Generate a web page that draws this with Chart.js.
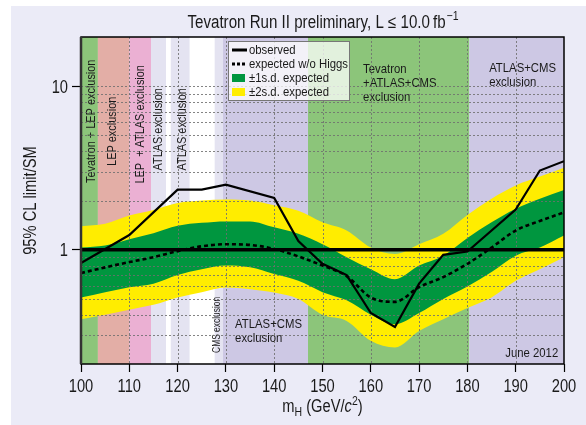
<!DOCTYPE html>
<html>
<head>
<meta charset="utf-8">
<script src="https://cdn.jsdelivr.net/npm/chart.js@4.4.1/dist/chart.umd.min.js"></script>
<style>
  html, body { margin: 0; padding: 0; background: #ffffff; }
  #bg { position: absolute; left: 11px; top: 6px; right: 0; bottom: 0; background: #ebebf7; }
  #wrap { position: absolute; left: 0; top: 0; width: 586px; height: 425px; }
</style>
</head>
<body>
<div id="bg"></div>
<div id="wrap"><canvas id="c" width="586" height="425"></canvas></div>
<script>
// Higgs mass points (GeV/c^2) for the expected limit and its bands
const masses     = [100, 105, 110, 115, 120, 125, 130, 135, 140, 145, 150, 155, 160, 165, 170, 175, 180, 185, 190, 195, 200];
const expected   = [0.72, 0.78, 0.84, 0.90, 0.98, 1.05, 1.08, 1.07, 1.01, 0.91, 0.80, 0.69, 0.51, 0.48, 0.59, 0.68, 0.82, 1.03, 1.31, 1.50, 1.69];
const sigma1Up   = [1.03, 1.06, 1.16, 1.26, 1.40, 1.46, 1.49, 1.49, 1.37, 1.25, 1.08, 0.90, 0.76, 0.66, 0.80, 0.92, 1.18, 1.47, 1.78, 2.05, 2.32];
const sigma1Down = [0.51, 0.55, 0.59, 0.62, 0.70, 0.76, 0.80, 0.78, 0.71, 0.645, 0.55, 0.49, 0.40, 0.35, 0.41, 0.50, 0.595, 0.73, 0.92, 1.03, 1.22];
const sigma2Up   = [1.39, 1.44, 1.62, 1.75, 1.93, 2.00, 2.03, 2.00, 1.87, 1.73, 1.47, 1.31, 1.03, 0.94, 1.08, 1.25, 1.63, 2.05, 2.47, 2.80, 3.17];
const sigma2Down = [0.376, 0.40, 0.43, 0.46, 0.51, 0.55, 0.587, 0.574, 0.547, 0.50, 0.40, 0.367, 0.277, 0.252, 0.318, 0.376, 0.44, 0.51, 0.645, 0.76, 0.90];

// Observed limit
const obsMasses = [100, 110, 120, 125, 130, 140, 145, 150, 155, 160, 165, 170, 175, 180, 190, 195, 200];
const observed  = [0.83, 1.23, 2.33, 2.33, 2.50, 2.07, 1.13, 0.82, 0.70, 0.41, 0.337, 0.62, 0.93, 0.975, 1.76, 3.05, 3.48];

// SM reference line
const smMasses = [100, 200];
const smLevel  = [1, 1];

// Axis ticks
const xTicks = [100, 110, 120, 130, 140, 150, 160, 170, 180, 190, 200];
const yTicks = [0.2, 0.3, 0.4, 0.5, 0.6, 0.7, 0.8, 0.9, 1, 2, 3, 4, 5, 6, 7, 8, 9, 10, 20];
const yTickLabels = { 1: '1', 10: '10' };

// Excluded mass ranges shown as vertical strips
const regionStart = [100, 103.5, 110, 114.5, 117.6, 118.6, 122.5, 127.7, 129.4, 147, 180.4];
const regionEnd   = [103.5, 110, 114.5, 117.6, 118.6, 122.5, 127.7, 129.4, 147, 180.4, 200];
const regionColor = ['#8cc57a', '#e3aea6', '#ebb0d3', '#e4e3f1', '#ffffff', '#e4e3f1', '#ffffff', '#e4e3f1', '#cdc8e4', '#8cc57a', '#cdc8e4'];

const FONT = '"Liberation Sans", Arial, sans-serif';
const TXT = '#1a1a1a';
const NARROW = 0.84;   // horizontal squeeze giving a narrow sans look

const pts = (xs, ys) => xs.map((x, i) => ({ x: x, y: ys[i] }));

// Draw a string squeezed horizontally; returns the drawn width
function drawText(ctx, text, x, y, font, align, baseline, sx) {
  sx = sx || NARROW;
  ctx.save();
  ctx.font = font;
  ctx.textBaseline = baseline || 'alphabetic';
  ctx.textAlign = 'left';
  const w = ctx.measureText(text).width * sx;
  const x0 = align === 'center' ? x - w / 2 : align === 'right' ? x - w : x;
  ctx.translate(x0, y);
  ctx.scale(sx, 1);
  ctx.fillText(text, 0, 0);
  ctx.restore();
  return w;
}
function textWidth(ctx, text, font, sx) {
  ctx.save(); ctx.font = font;
  const w = ctx.measureText(text).width * (sx || NARROW);
  ctx.restore();
  return w;
}

// Text written inside the strips (mass, limit value)
const stripLabels = [
  { x: 102.1, y: 6.1,  lines: ['Tevatron + LEP exclusion'], rot: true, size: 13 },
  { x: 106.6, y: 5.3,  lines: ['LEP exclusion'], rot: true, size: 13 },
  { x: 112.2, y: 5.85, lines: ['LEP  + ATLAS exclusion'], rot: true, size: 13 },
  { x: 116.1, y: 5.45, lines: ['ATLAS exclusion'], rot: true, size: 13 },
  { x: 121.1, y: 5.45, lines: ['ATLAS exclusion'], rot: true, size: 13 },
  { x: 128.2, y: 0.347, lines: ['CMS exclusion'], rot: true, size: 10 },
  { x: 131.9, y: 0.352, lines: ['ATLAS+CMS', 'exclusion'], rot: false, size: 13.5, align: 'left' },
  { x: 158.4, y: 12.7, lines: ['Tevatron', '+ATLAS+CMS', 'exclusion'], rot: false, size: 13.5, align: 'left' },
  { x: 184.5, y: 12.9, lines: ['ATLAS+CMS', 'exclusion'], rot: false, size: 13.5, align: 'left' },
  { x: 198.8, y: 0.233, lines: ['June 2012'], rot: false, size: 13.5, align: 'right' }
];

const GREEN_DOWN_INDEX = 3;

const decorPlugin = {
  id: 'decor',
  beforeDatasetsDraw(chart) {
    const { ctx, chartArea: a, scales: { x, y } } = chart;
    ctx.save();
    for (let i = 0; i < regionStart.length; i++) {
      const x0 = x.getPixelForValue(regionStart[i]);
      const x1 = x.getPixelForValue(regionEnd[i]);
      ctx.fillStyle = regionColor[i];
      ctx.fillRect(x0, a.top, x1 - x0, a.bottom - a.top);
    }
    ctx.fillStyle = TXT;
    stripLabels.forEach(l => {
      const px = x.getPixelForValue(l.x);
      const py = y.getPixelForValue(l.y);
      const f = l.size + 'px ' + FONT;
      if (l.rot) {
        ctx.save();
        ctx.translate(px, py);
        ctx.rotate(-Math.PI / 2);
        drawText(ctx, l.lines[0], 0, 0, f, 'center', 'middle');
        ctx.restore();
      } else {
        l.lines.forEach((t, k) => drawText(ctx, t, px, py + k * 14, f, l.align, 'middle'));
      }
    });
    ctx.restore();
  },
  afterDatasetDraw(chart, args) {
    if (args.index !== GREEN_DOWN_INDEX) return;
    const { ctx, chartArea: a, scales: { x, y } } = chart;
    ctx.save();
    ctx.strokeStyle = 'rgba(110,110,110,0.85)';
    ctx.lineWidth = 1;
    ctx.setLineDash([2, 2]);
    yTicks.forEach(v => {
      if (v <= 0.2 || v >= 20) return;
      const py = Math.round(y.getPixelForValue(v)) + 0.5;
      ctx.beginPath(); ctx.moveTo(a.left, py); ctx.lineTo(a.right, py); ctx.stroke();
    });
    xTicks.forEach(v => {
      if (v <= 100 || v >= 200) return;
      const px = Math.round(x.getPixelForValue(v)) + 0.5;
      ctx.beginPath(); ctx.moveTo(px, a.top); ctx.lineTo(px, a.bottom); ctx.stroke();
    });
    ctx.restore();
  },
  afterDraw(chart) {
    const { ctx, chartArea: a, scales: { x, y } } = chart;
    ctx.save();
    // frame
    ctx.strokeStyle = '#000';
    ctx.lineWidth = 1.5;
    ctx.strokeRect(a.left, a.top, a.right - a.left, a.bottom - a.top);
    ctx.strokeStyle = '#333';
    ctx.lineWidth = 2.5;
    ctx.beginPath(); ctx.moveTo(a.left, a.top); ctx.lineTo(a.left, a.bottom); ctx.stroke();

    // tick labels
    ctx.fillStyle = TXT;
    const tickFont = '17.5px ' + FONT;
    xTicks.forEach(v => drawText(ctx, String(v), x.getPixelForValue(v), 392, tickFont, 'center', 'alphabetic'));
    yTicks.forEach(v => {
      if (yTickLabels[v] === undefined) return;
      drawText(ctx, yTickLabels[v], a.left - 13, y.getPixelForValue(v) + 6.3, tickFont, 'right', 'alphabetic');
    });

    // legend
    const lx = a.left + 147, ly = a.top + 4, lw = 121, lh = 59;
    ctx.fillStyle = 'rgba(255,255,255,0.75)';
    ctx.fillRect(lx, ly, lw, lh);
    ctx.strokeStyle = '#777';
    ctx.lineWidth = 1;
    ctx.strokeRect(lx + 0.5, ly + 0.5, lw, lh);
    const rows = [9, 23, 37, 51];
    const sx = lx + 4, sw = 15, tx = lx + 21;
    ctx.strokeStyle = '#000';
    ctx.lineWidth = 3;
    ctx.beginPath(); ctx.moveTo(sx, ly + rows[0]); ctx.lineTo(sx + sw, ly + rows[0]); ctx.stroke();
    ctx.setLineDash([3, 2]);
    ctx.beginPath(); ctx.moveTo(sx, ly + rows[1]); ctx.lineTo(sx + sw, ly + rows[1]); ctx.stroke();
    ctx.setLineDash([]);
    ctx.fillStyle = '#00963f';
    ctx.fillRect(sx, ly + rows[2] - 4, 13, 8);
    ctx.fillStyle = '#ffed00';
    ctx.fillRect(sx, ly + rows[3] - 4, 13, 8);
    ctx.fillStyle = TXT;
    const lf = '13.5px ' + FONT;
    drawText(ctx, 'observed', tx, ly + rows[0], lf, 'left', 'middle');
    drawText(ctx, 'expected w/o Higgs', tx, ly + rows[1], lf, 'left', 'middle');
    drawText(ctx, '\u00b11s.d. expected', tx, ly + rows[2], lf, 'left', 'middle');
    drawText(ctx, '\u00b12s.d. expected', tx, ly + rows[3], lf, 'left', 'middle');

    // title
    const cx = (a.left + a.right) / 2;
    const tf = '18px ' + FONT, sf = '12.5px ' + FONT;
    const main = 'Tevatron Run II preliminary, L \u2264 10.0\u2009fb';
    const sup = '\u22121';
    const w1 = textWidth(ctx, main, tf);
    const w2 = textWidth(ctx, sup, sf);
    const t0 = cx - (w1 + w2) / 2;
    drawText(ctx, main, t0, 28, tf, 'left', 'alphabetic');
    drawText(ctx, sup, t0 + w1 + 1, 20, sf, 'left', 'alphabetic');

    // x title: m_H (GeV/c^2)
    const parts = [
      { t: 'm', f: '17.5px ' + FONT, dy: 0 },
      { t: 'H', f: '12.5px ' + FONT, dy: 4 },
      { t: ' (GeV/', f: '17.5px ' + FONT, dy: 0 },
      { t: 'c', f: 'italic 17.5px ' + FONT, dy: 0 },
      { t: '2', f: '12.5px ' + FONT, dy: -7 },
      { t: ')', f: '17.5px ' + FONT, dy: 0 }
    ];
    let tw = 0;
    parts.forEach(p => { p.w = textWidth(ctx, p.t, p.f); tw += p.w; });
    let px = cx - tw / 2;
    parts.forEach(p => { drawText(ctx, p.t, px, 412 + p.dy, p.f, 'left', 'alphabetic'); px += p.w; });

    // y title
    ctx.save();
    ctx.translate(31, (a.top + a.bottom) / 2);
    ctx.rotate(-Math.PI / 2);
    drawText(ctx, '95% CL limit/SM', 0, 0, '17.5px ' + FONT, 'center', 'middle');
    ctx.restore();

    ctx.restore();
  }
};

const bandLine = { pointRadius: 0, borderWidth: 0, cubicInterpolationMode: 'monotone' };

new Chart(document.getElementById('c'), {
  type: 'line',
  data: {
    datasets: [
      Object.assign({ label: '2s up', data: pts(masses, sigma2Up), fill: '+1', backgroundColor: '#ffed00', borderColor: 'rgba(0,0,0,0)', order: 10 }, bandLine),
      Object.assign({ label: '2s down', data: pts(masses, sigma2Down), fill: false, borderColor: 'rgba(0,0,0,0)', order: 9 }, bandLine),
      Object.assign({ label: '1s up', data: pts(masses, sigma1Up), fill: '+1', backgroundColor: '#00963f', borderColor: 'rgba(0,0,0,0)', order: 8 }, bandLine),
      Object.assign({ label: '1s down', data: pts(masses, sigma1Down), fill: false, borderColor: 'rgba(0,0,0,0)', order: 7 }, bandLine),
      { label: 'expected', data: pts(masses, expected), fill: false, borderColor: '#000', borderWidth: 2.6, borderDash: [4, 3], pointRadius: 0, cubicInterpolationMode: 'monotone', order: 3 },
      { label: 'SM', data: pts(smMasses, smLevel), fill: false, borderColor: '#000', borderWidth: 3.6, pointRadius: 0, order: 2 },
      { label: 'observed', data: pts(obsMasses, observed), fill: false, borderColor: '#000', borderWidth: 2.2, pointRadius: 0, tension: 0, order: 1 }
    ]
  },
  options: {
    responsive: false,
    animation: false,
    devicePixelRatio: 1,
    layout: { padding: { left: 0, right: 22, top: 37, bottom: 0 } },
    plugins: { legend: { display: false }, tooltip: { enabled: false }, title: { display: false } },
    scales: {
      x: {
        type: 'linear', min: 100, max: 200,
        afterBuildTicks: s => { s.ticks = xTicks.map(v => ({ value: v })); },
        afterFit: s => { s.height = 61; },
        ticks: { autoSkip: false, maxRotation: 0, padding: 3, color: 'rgba(0,0,0,0)', font: { family: FONT, size: 12 }, callback: v => String(v) },
        grid: { drawOnChartArea: false, drawTicks: true, tickLength: 8, tickColor: '#000', tickWidth: 1.2 },
        border: { display: false }
      },
      y: {
        type: 'logarithmic', min: 0.2, max: 20,
        afterBuildTicks: s => { s.ticks = yTicks.map(v => ({ value: v })); },
        afterFit: s => { s.width = 81; },
        ticks: { autoSkip: false, padding: 3, color: 'rgba(0,0,0,0)', font: { family: FONT, size: 12 }, callback: v => (yTickLabels[v] !== undefined ? yTickLabels[v] : '') },
        grid: { drawOnChartArea: false, drawTicks: true, tickLength: 9, tickColor: ctx => (ctx.tick && yTickLabels[ctx.tick.value] !== undefined ? '#000' : 'rgba(0,0,0,0)'), tickWidth: 1.2 },
        border: { display: false }
      }
    }
  },
  plugins: [decorPlugin]
});
</script>
</body>
</html>
